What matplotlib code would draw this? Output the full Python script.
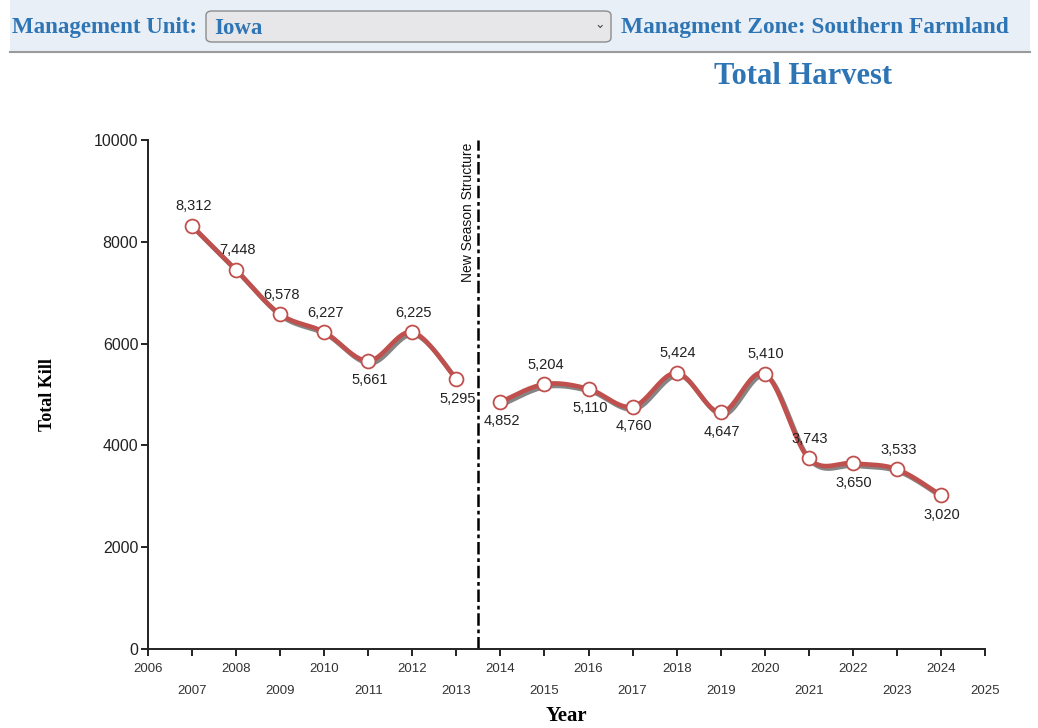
import numpy as np
import matplotlib
matplotlib.use("Agg")
import matplotlib.pyplot as plt
import matplotlib.patheffects as pe
from matplotlib.patches import FancyBboxPatch, Rectangle

# harvest totals, before and after the season change
years_old = [2007, 2008, 2009, 2010, 2011, 2012, 2013]
kill_old = [8312, 7448, 6578, 6227, 5661, 6225, 5295]
years_new = [2014, 2015, 2016, 2017, 2018, 2019, 2020, 2021, 2022, 2023, 2024]
kill_new = [4852, 5204, 5110, 4760, 5424, 4647, 5410, 3743, 3650, 3533, 3020]

# which side of the point each value label sits on
above_old = [True, True, True, True, False, True, False]
above_new = [False, True, False, False, True, False, True, True, False, True, False]

season_change = 2013.5
tick_years = list(range(2006, 2026))
y_ticks = [0, 2000, 4000, 6000, 8000, 10000]

BLUE = "#2e75b6"
RED = "#c0504d"
SERIF = "Liberation Serif"
SANS = "Liberation Sans"


def cardinal(x, y, steps=40):
    """Catmull-Rom curve through the points (same as d3 curveCardinal)."""
    x = np.asarray(x, float)
    y = np.asarray(y, float)
    px = np.concatenate([[x[0]], x, [x[-1]]])
    py = np.concatenate([[y[0]], y, [y[-1]]])
    t = np.linspace(0, 1, steps)
    xs, ys = [], []
    for i in range(1, len(px) - 2):
        for p, out in ((px, xs), (py, ys)):
            p0, p1, p2, p3 = p[i - 1], p[i], p[i + 1], p[i + 2]
            out.append(0.5 * (2 * p1 + (-p0 + p2) * t
                              + (2 * p0 - 5 * p1 + 4 * p2 - p3) * t ** 2
                              + (-p0 + 3 * p1 - 3 * p2 + p3) * t ** 3))
    return np.concatenate(xs), np.concatenate(ys)


fig = plt.figure(figsize=(10.38, 7.28), dpi=100)

# header bar with the unit selector
fig.patches.append(Rectangle((10 / 1038, 1 - 52 / 728), 1020 / 1038, 52 / 728,
                             transform=fig.transFigure, facecolor="#e9eff6",
                             edgecolor="none", zorder=0))
fig.add_artist(plt.Line2D([10 / 1038, 1030 / 1038], [1 - 52 / 728] * 2,
                          transform=fig.transFigure, color="#9a9a9a", lw=1.5))
fig.patches.append(FancyBboxPatch((206 / 1038, 1 - 42 / 728), 405 / 1038, 31 / 728,
                                  boxstyle="round,pad=0,rounding_size=0.006",
                                  transform=fig.transFigure, facecolor="#e7e7ea",
                                  edgecolor="#8c8c8c", lw=1))
fig.text(12 / 1038, 1 - 28 / 728, "Management Unit:", family=SERIF, weight="bold",
         size=16.5, color=BLUE, va="center")
fig.text(214 / 1038, 1 - 28 / 728, "Iowa", family=SERIF, weight="bold",
         size=16.5, color=BLUE, va="center")
fig.text(600 / 1038, 1 - 25 / 728, "\u2304", family="DejaVu Sans", size=9,
         color="#444444", ha="center", va="center")
fig.text(621 / 1038, 1 - 28 / 728, "Managment Zone: Southern Farmland",
         family=SERIF, weight="bold", size=16.8, color=BLUE, va="center")

fig.text(803 / 1038, 1 - 76 / 728, "Total Harvest", family=SERIF, weight="bold",
         size=22, color=BLUE, ha="center", va="center")

ax = fig.add_axes([148 / 1038, 79 / 728, 837 / 1038, 509 / 728])
ax.set_xlim(2006, 2025)
ax.set_ylim(0, 10000)

for spine in ("top", "right"):
    ax.spines[spine].set_visible(False)
for spine in ("left", "bottom"):
    ax.spines[spine].set_linewidth(1.4)
    ax.spines[spine].set_color("#222222")

ax.set_yticks(y_ticks)
ax.set_yticklabels([str(v) for v in y_ticks], family=SANS, size=11.5, color="#222222")
ax.set_xticks(tick_years)
ax.set_xticklabels([str(v) for v in tick_years], family=SANS, size=9.5, color="#333333")
ax.tick_params(axis="both", direction="out", length=5, width=1.4, color="#222222")
ax.tick_params(axis="y", pad=2)
ax.tick_params(axis="x", pad=5)
for tick, yr in zip(ax.xaxis.get_major_ticks(), tick_years):
    if yr % 2:
        tick.set_pad(21)

shadow = [pe.SimpleLineShadow(offset=(1.5, -1.8), shadow_color="#222222", alpha=0.55),
          pe.Normal()]

for xs, ys, above in ((years_old, kill_old, above_old),
                      (years_new, kill_new, above_new)):
    cx, cy = cardinal(xs, ys)
    ax.plot(cx, cy, color=RED, lw=3.3, solid_capstyle="round",
            path_effects=shadow, zorder=3, clip_on=False)
    ax.scatter(xs, ys, s=100, facecolor="white", edgecolor=RED, linewidth=1.3,
               zorder=4, clip_on=False)
    for x, y, up in zip(xs, ys, above):
        ax.annotate(f"{y:,}", (x, y), xytext=(1, 14 if up else -14),
                    textcoords="offset points", ha="center", va="center",
                    family=SANS, size=10.5, color="#222222", zorder=5)

ax.axvline(season_change, color="black", lw=1.8, ls=(0, (5, 1.5, 1.5, 1.5)), zorder=2)
ax.text(season_change - 0.08, 9950, "New Season Structure", rotation=90,
        family=SANS, size=10, ha="right", va="top", color="#111111")

fig.text(47 / 1038, 1 - 395 / 728, "Total Kill", rotation=90, family=SERIF,
         weight="bold", size=13, ha="center", va="center")
fig.text(566 / 1038, 1 - 716 / 728, "Year", family=SERIF, weight="bold",
         size=15, ha="center", va="center")

fig.savefig("out.png", dpi=100)
